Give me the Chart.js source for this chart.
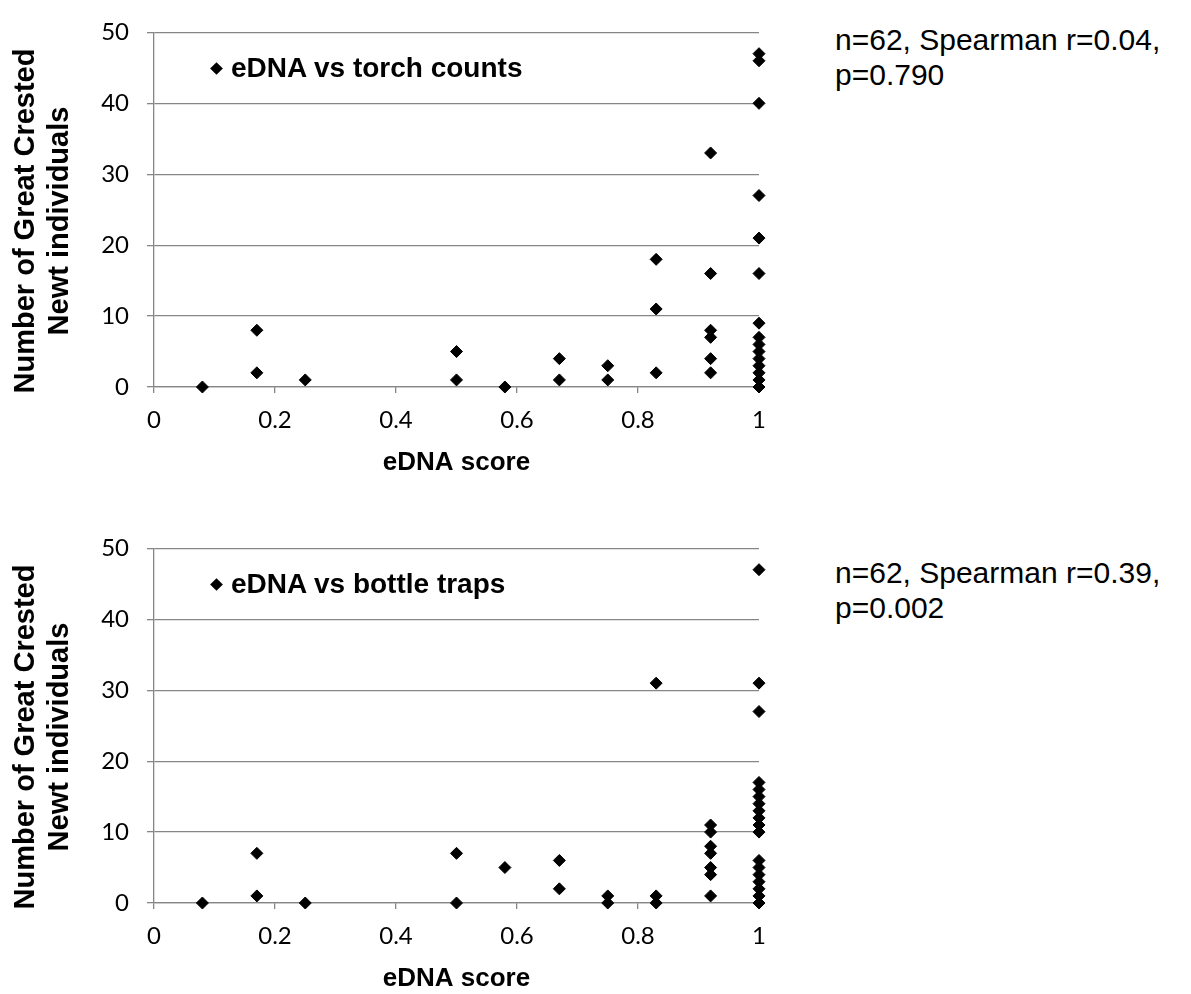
<!DOCTYPE html>
<html>
<head>
<meta charset="utf-8">
<script src="https://cdn.jsdelivr.net/npm/chart.js@4/dist/chart.umd.min.js"></script>
<style>
  body { margin: 0; background: #fff; width: 1191px; height: 994px; position: relative; overflow: hidden;
         font-family: "Liberation Sans", Arial, sans-serif; color: #000; }
  .box { position: absolute; left: 0; width: 800px; height: 478px; }
  .legend { position: absolute; left: 212px; height: 34px; display: flex; align-items: center;
            font-weight: bold; font-size: 28px; white-space: nowrap; }
  .legend i { display: inline-block; width: 9px; height: 9px; background: #000; transform: rotate(45deg); margin-right: 10px; }
  .ytitle { position: absolute; left: -159px; width: 400px; height: 68px; line-height: 34px;
            text-align: center; font-weight: bold; font-size: 29px; white-space: nowrap;
            transform: rotate(-90deg); }
  .note { position: absolute; left: 835px; font-size: 30px; line-height: 35px; white-space: nowrap; }
</style>
</head>
<body>
<div class="box" style="top:0"><canvas id="torchChart" width="800" height="478"></canvas></div>
<div class="box" style="top:516px"><canvas id="bottleChart" width="800" height="478"></canvas></div>

<div class="ytitle" style="top:187px">Number of Great Crested<br>Newt individuals</div>
<div class="ytitle" style="top:703px">Number of Great Crested<br>Newt individuals</div>

<div class="legend" style="top:51px"><i></i>eDNA vs torch counts</div>
<div class="legend" style="top:567px"><i></i>eDNA vs bottle traps</div>

<div class="note" style="top:22px">n=62, Spearman r=0.04,<br>p=0.790</div>
<div class="note" style="top:555px">n=62, Spearman r=0.39,<br>p=0.002</div>

<script>
'use strict';

/* eDNA score vs GCN counts (hidden duplicates not shown) */
const torchScore  = [0.08, 0.17, 0.17, 0.25, 0.5, 0.5, 0.58, 0.67, 0.67, 0.75, 0.75,
                     0.83, 0.83, 0.83,
                     0.92, 0.92, 0.92, 0.92, 0.92, 0.92,
                     1, 1, 1, 1, 1, 1, 1, 1, 1, 1, 1, 1, 1, 1, 1];
const torchCount  = [0, 8, 2, 1, 5, 1, 0, 4, 1, 3, 1,
                     18, 11, 2,
                     33, 16, 8, 7, 4, 2,
                     47, 46, 40, 27, 21, 16, 9, 7, 6, 5, 4, 3, 2, 1, 0];

const bottleScore = [0.08, 0.17, 0.17, 0.25, 0.5, 0.5, 0.58, 0.67, 0.67, 0.75, 0.75,
                     0.83, 0.83, 0.83,
                     0.92, 0.92, 0.92, 0.92, 0.92, 0.92, 0.92,
                     1, 1, 1, 1, 1, 1, 1, 1, 1, 1, 1, 1, 1, 1, 1, 1, 1, 1];
const bottleCount = [0, 7, 1, 0, 7, 0, 5, 6, 2, 1, 0,
                     31, 1, 0,
                     11, 10, 8, 7, 5, 4, 1,
                     47, 31, 27, 17, 16, 15, 14, 13, 12, 11, 10, 6, 5, 4, 3, 2, 1, 0];

const xTitle = 'eDNA score';

const GRID = '#868686';

function makeChart(id, label, xs, ys) {
  return new Chart(document.getElementById(id).getContext('2d'), {
    type: 'scatter',
    data: {
      datasets: [{
        label: label,
        data: xs.map((x, i) => ({ x: x, y: ys[i] })),
        pointStyle: 'rectRot',
        pointRadius: 6, pointHoverRadius: 6,
        backgroundColor: '#000', borderColor: '#000', borderWidth: 1,
        clip: false,
      }],
    },
    options: {
      responsive: false,
      animation: false,
      layout: { padding: { top: 27, right: 41, bottom: 0, left: 0 } },
      plugins: {
        legend:  { display: false },
        tooltip: { enabled: false },
      },
      scales: {
        x: {
          min: 0, max: 1,
          grid:   { drawOnChartArea: false, tickLength: 6, color: GRID, lineWidth: 1.3 },
          border: { color: GRID, width: 1.3 },
          ticks:  { stepSize: 0.2, padding: 13, color: '#000', maxRotation: 0,
                    font: { family: 'Lato', size: 24 },
                    callback: v => String(+v.toFixed(1)) },
          title:  { display: true, text: xTitle, color: '#000', padding: 0,
                    font: { family: 'Liberation Sans', size: 26, weight: 'bold' } },
          afterFit: s => { s.height = 91; },
        },
        y: {
          min: 0, max: 50,
          grid:   { color: GRID, tickLength: 7, lineWidth: 1.3 },
          border: { color: GRID, width: 1.3 },
          ticks:  { stepSize: 10, padding: 18, color: '#000',
                    font: { family: 'Lato', size: 24 } },
          afterFit: s => { s.width = 154; },
        },
      },
    },
  });
}

makeChart('torchChart',  'eDNA vs torch counts', torchScore,  torchCount);
makeChart('bottleChart', 'eDNA vs bottle traps', bottleScore, bottleCount);
</script>
</body>
</html>
